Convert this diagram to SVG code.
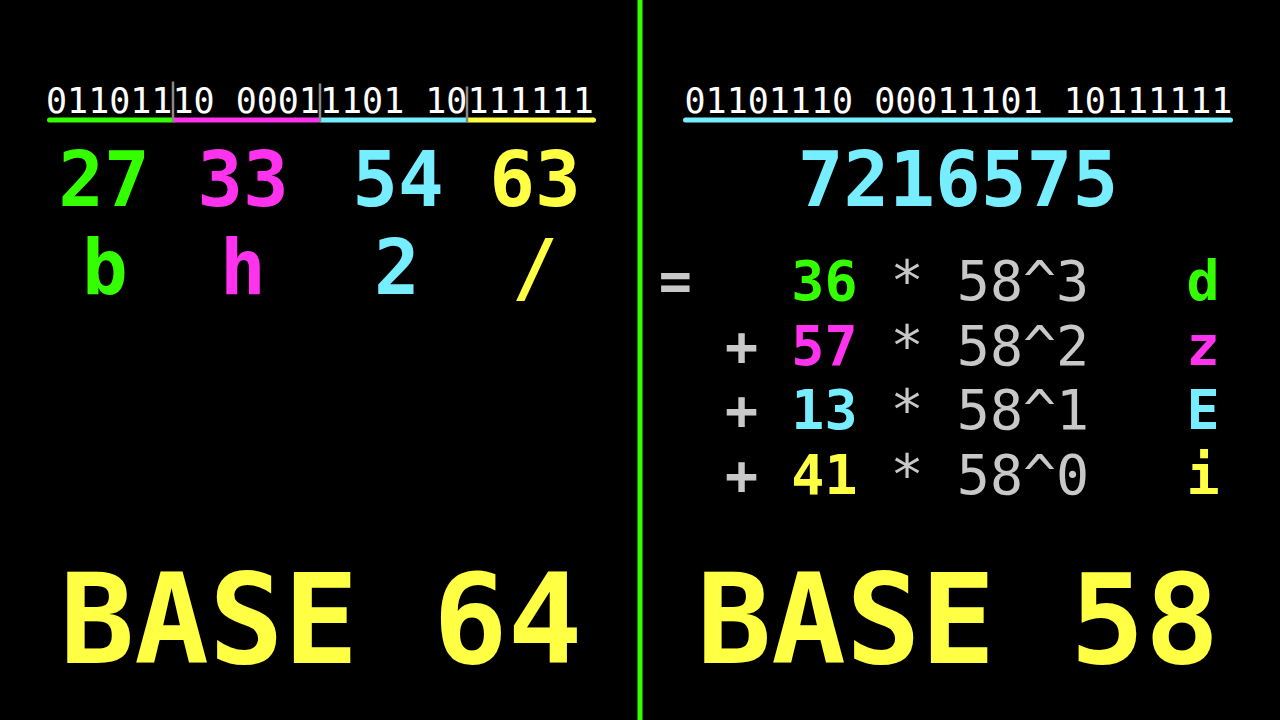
<svg xmlns="http://www.w3.org/2000/svg" width="1280" height="720" viewBox="0 0 1280 720">
<style>
text{font-family:"DejaVu Sans Mono","Liberation Mono",monospace}
.bin{font-size:35px;fill:#ffffff}
.big{font-size:76px;font-weight:bold;text-anchor:middle}
.eq{font-size:55px;text-anchor:middle}
.b{font-weight:bold}
.title{font-size:124px;font-weight:bold;fill:#ffff44;text-anchor:middle}
.g{fill:#33ff00}.m{fill:#ff33ee}.c{fill:#77eeff}.y{fill:#ffff44}.gr{fill:#c8c8c8}
.tick{stroke:#888888;stroke-width:2.5}
</style>
<rect width="1280" height="720" fill="#000000"/>
<g id="divider"><rect x="637.5" y="0" width="5" height="720" fill="#33ff00"/></g>

<g id="left-binary">
<text class="bin" x="46" y="113">01101110 00011101 10111111</text>
</g>
<g id="left-underline">
<line x1="49.5" y1="120" x2="173" y2="120" stroke="#33ff00" stroke-width="5" stroke-linecap="round"/>
<line x1="173" y1="120" x2="320" y2="120" stroke="#ff33ee" stroke-width="5"/>
<line x1="320" y1="120" x2="467" y2="120" stroke="#77eeff" stroke-width="5"/>
<line x1="467" y1="120" x2="593.5" y2="120" stroke="#ffff44" stroke-width="5"/>
<circle cx="593.5" cy="120" r="2.5" fill="#ffff44"/>
<line class="tick" x1="173" y1="81.5" x2="173" y2="122"/>
<line class="tick" x1="320" y1="83.5" x2="320" y2="122"/>
<line class="tick" x1="467" y1="86.5" x2="467" y2="122"/>
</g>
<g id="left-values">
<text class="big g" x="104" y="206">27</text>
<text class="big m" x="243" y="206">33</text>
<text class="big c" x="398" y="206">54</text>
<text class="big y" x="535" y="206">63</text>
</g>
<g id="left-chars">
<text class="big g" x="105" y="294">b</text>
<text class="big m" x="243" y="294">h</text>
<text class="big c" x="397" y="294">2</text>
<text class="big y" x="535" y="294">/</text>
</g>

<g id="right-binary">
<text class="bin" x="684.5" y="113">01101110 00011101 10111111</text>
<line x1="685.5" y1="120" x2="1230.5" y2="120" stroke="#77eeff" stroke-width="5" stroke-linecap="round"/>
</g>
<g id="right-value">
<text class="big c" x="958" y="206">7216575</text>
</g>
<g id="equation">
<text class="eq b gr" x="675.4" y="300">=</text>
<text class="eq b g" x="824.4" y="300">36</text>
<text class="eq gr" x="907.1" y="300">*</text>
<text class="eq gr" x="1023" y="300">58^3</text>
<text class="eq b g" x="1203" y="300">d</text>

<text class="eq b gr" x="741.6" y="364.5">+</text>
<text class="eq b m" x="824.4" y="364.5">57</text>
<text class="eq gr" x="907.1" y="364.5">*</text>
<text class="eq gr" x="1023" y="364.5">58^2</text>
<text class="eq b m" x="1203" y="364.5">z</text>

<text class="eq b gr" x="741.6" y="429">+</text>
<text class="eq b c" x="824.4" y="429">13</text>
<text class="eq gr" x="907.1" y="429">*</text>
<text class="eq gr" x="1023" y="429">58^1</text>
<text class="eq b c" x="1203" y="429">E</text>

<text class="eq b gr" x="741.6" y="493.5">+</text>
<text class="eq b y" x="824.4" y="493.5">41</text>
<text class="eq gr" x="907.1" y="493.5">*</text>
<text class="eq gr" x="1023" y="493.5">58^0</text>
<text class="eq b y" x="1203" y="493.5">i</text>
</g>

<g id="titles">
<text class="title" x="321" y="663">BASE 64</text>
<text class="title" x="958" y="663">BASE 58</text>
</g>
</svg>
